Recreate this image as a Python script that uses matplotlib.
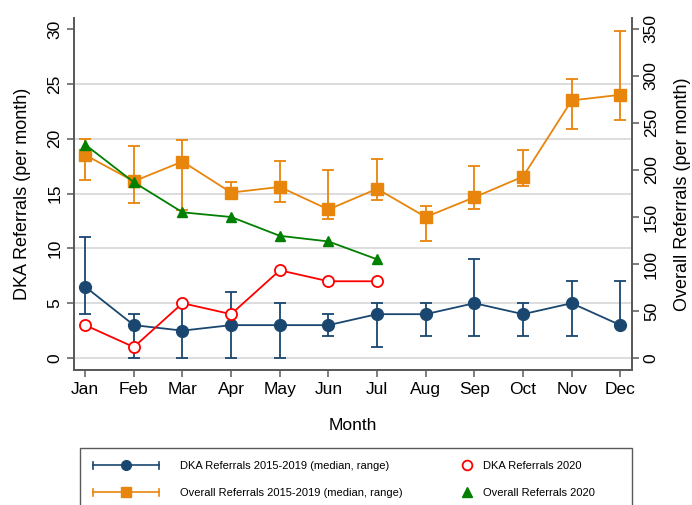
import matplotlib
matplotlib.use("Agg")
from matplotlib import pyplot as plt
from matplotlib.legend_handler import HandlerBase
from matplotlib.lines import Line2D
from matplotlib.patches import Rectangle
import numpy as np

plt.rcParams['font.family'] = ['Liberation Sans', 'DejaVu Sans']

months = ["Jan", "Feb", "Mar", "Apr", "May", "Jun",
          "Jul", "Aug", "Sep", "Oct", "Nov", "Dec"]

# DKA referrals 2015-2019 (median, min, max)
dka_med = [6.5, 3, 2.5, 3, 3, 3, 4, 4, 5, 4, 5, 3]
dka_lo = [4, 0, 0, 0, 0, 2, 1, 2, 2, 2, 2, 3]
dka_hi = [11, 4, 5, 6, 5, 4, 5, 5, 9, 5, 7, 7]

# overall referrals 2015-2019 (median, min, max)
all_med = [216, 188, 209, 176, 182, 158, 180, 150, 171, 193, 274, 280]
all_lo = [189, 165, 157, 170, 166, 148, 168, 125, 158, 183, 244, 253]
all_hi = [233, 225, 232, 187, 210, 200, 212, 162, 204, 221, 297, 348]

# 2020 (Jan-Jul)
dka_2020 = [3, 1, 5, 4, 8, 7, 7]
all_2020 = [227, 187, 155, 150, 130, 124, 105]

NAVY = "#1a476f"
ORANGE = "#e8850c"
RED = "#ff0000"
GREEN = "#008000"
SPINE = "#5a5a5a"


class ErrbarHandler(HandlerBase):
    # horizontal line with caps at both ends and a marker in the middle
    def __init__(self, color, marker, ms):
        super().__init__()
        self.color, self.marker, self.ms = color, marker, ms

    def create_artists(self, legend, orig_handle, xdescent, ydescent,
                       width, height, fontsize, trans):
        y = height / 2 - ydescent
        x0, x1 = -xdescent, -xdescent + width
        cap = height * 0.45
        arts = [
            Line2D([x0, x1], [y, y], color=self.color, lw=1.2),
            Line2D([x0, x0], [y - cap, y + cap], color=self.color, lw=1.2),
            Line2D([x1, x1], [y - cap, y + cap], color=self.color, lw=1.2),
            Line2D([(x0 + x1) / 2], [y], color=self.color, marker=self.marker,
                   ms=self.ms, ls="none"),
        ]
        for a in arts:
            a.set_transform(trans)
        return arts


class RightMarkerHandler(HandlerBase):
    # single marker sitting at the right end of the handle box
    def create_artists(self, legend, orig_handle, xdescent, ydescent,
                       width, height, fontsize, trans):
        y = height / 2 - ydescent
        m = Line2D([-xdescent + width + 3.5], [y], ls="none",
                   marker=orig_handle.get_marker(), ms=orig_handle.get_markersize(),
                   mfc=orig_handle.get_markerfacecolor(),
                   mec=orig_handle.get_markeredgecolor(),
                   mew=orig_handle.get_markeredgewidth())
        m.set_transform(trans)
        return [m]


fig = plt.figure(figsize=(6.92, 5.05), dpi=100)
ax = fig.add_axes([74 / 692, 1 - 370 / 505, (632 - 74) / 692, (370 - 18) / 505])
ax2 = ax.twinx()

x = np.arange(len(months))
x20 = np.arange(len(dka_2020))

dka_med_a = np.array(dka_med)
all_med_a = np.array(all_med)

ax.errorbar(x, dka_med, yerr=[dka_med_a - dka_lo, np.array(dka_hi) - dka_med_a],
            color=NAVY, lw=1.3, marker="o", ms=8.5, capsize=4, capthick=1.3,
            elinewidth=1.3, zorder=3)
ax.plot(x20, dka_2020, color=RED, lw=1.3, marker="o", ms=8,
        mfc="white", mec=RED, mew=1.3, zorder=4)

ax2.errorbar(x, all_med, yerr=[all_med_a - all_lo, np.array(all_hi) - all_med_a],
             color=ORANGE, lw=1.3, marker="s", ms=8, capsize=4, capthick=1.3,
             elinewidth=1.3, zorder=3)
ax2.plot(x20, all_2020, color=GREEN, lw=1.3, marker="^", ms=7.5, zorder=4)

# scales: left 0-30 and right 0-350 share the same extent
lo, hi = -1.09, 31.0
ax.set_ylim(lo, hi)
ax2.set_ylim(lo * 350 / 30, hi * 350 / 30)
ax.set_xlim(-0.23, 11.24)

ax.set_yticks(np.arange(0, 31, 5))
ax2.set_yticks(np.arange(0, 351, 50))
ax.set_xticks(x)
ax.set_xticklabels(months)

for g in range(0, 30, 5):
    ax.axhline(g, color="#d7d7d7", lw=1.2, zorder=0)

for a in (ax, ax2):
    a.spines["top"].set_visible(False)
    for s in ("left", "right", "bottom"):
        a.spines[s].set_color(SPINE)
        a.spines[s].set_linewidth(1.3)
    a.tick_params(colors=SPINE, labelcolor="black", labelsize=12.5,
                  length=5, width=1.1)

for t in ax.get_yticklabels():
    t.set_rotation(90)
    t.set_va("center")
for t in ax2.get_yticklabels():
    t.set_rotation(90)
    t.set_va("center")

ax.set_ylabel("DKA Referrals (per month)", fontsize=13, labelpad=12)
ax2.set_ylabel("Overall Referrals (per month)", fontsize=13, labelpad=11)
ax.set_xlabel("Month", fontsize=12.5, labelpad=15)

h_dka = Line2D([], [], color=NAVY)
h_all = Line2D([], [], color=ORANGE)
h_dka20 = Line2D([], [], color=RED, marker="o", ms=7, mfc="white", mec=RED,
                 mew=1.3, ls="none")
h_all20 = Line2D([], [], color=GREEN, marker="^", ms=7, mfc=GREEN, mec=GREEN,
                 mew=1.0, ls="none")

fig.legend(
    [h_dka, h_all, h_dka20, h_all20],
    ["DKA Referrals 2015-2019 (median, range)",
     "Overall Referrals 2015-2019 (median, range)",
     "DKA Referrals 2020", "Overall Referrals 2020"],
    handler_map={h_dka: ErrbarHandler(NAVY, "o", 7),
                 h_all: ErrbarHandler(ORANGE, "s", 6.5),
                 h_dka20: RightMarkerHandler(),
                 h_all20: RightMarkerHandler()},
    loc="upper left", bbox_to_anchor=(80 / 692, 1 - 448 / 505),
    ncol=2, fontsize=8, frameon=False,
    handlelength=5.9, handletextpad=1.9, labelspacing=1.5,
    borderpad=1.2, borderaxespad=0, columnspacing=-0.55,
)

# legend box, running off the bottom of the figure like the original
fig.add_artist(Rectangle((80 / 692, -0.02), (632 - 80) / 692, 1 - 448 / 505 + 0.02,
                         transform=fig.transFigure, fill=False,
                         edgecolor=SPINE, lw=1.0, clip_on=False))

fig.savefig("out.png", dpi=100)
